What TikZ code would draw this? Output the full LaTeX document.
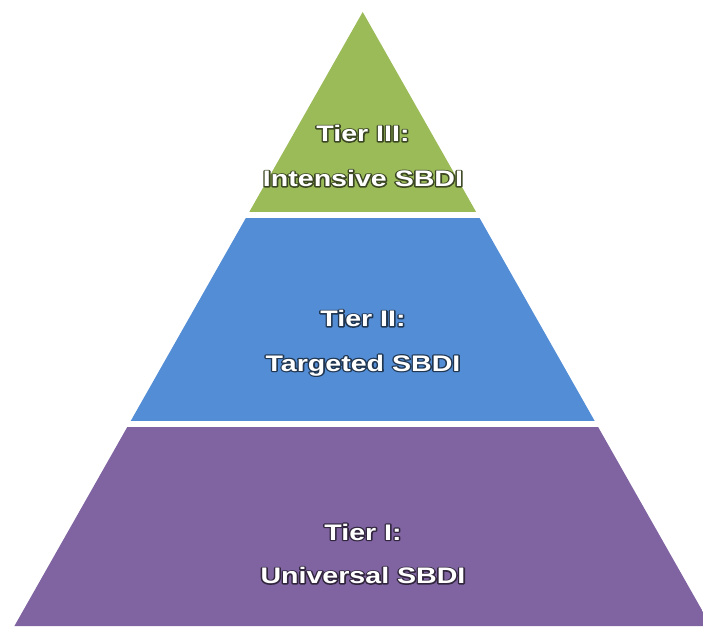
\documentclass[tikz,border=0pt]{standalone}
\usepackage{fontspec}
\usepackage{graphicx}
\setmainfont{Liberation Sans}
\definecolor{tgreen}{HTML}{9BBB59}
\definecolor{tblue}{HTML}{538DD5}
\definecolor{tpurple}{HTML}{8064A2}
\newcommand\glowtxt[2]{%
  \scalebox{1.27}[1]{%
    \rlap{\color{#1!38!black}\special{pdf:literal direct 2 Tr 2.4 w 1 j}#2\special{pdf:literal direct 0 Tr}}%
    \color{white}#2}}
\tikzset{
  lbl/.style={font=\bfseries\fontsize{22.5}{27}\selectfont, anchor=base, inner sep=0pt},
}
\begin{document}
\begin{tikzpicture}[x=1pt,y=-1pt]
\useasboundingbox (0,0) rectangle (703,626);
\begin{scope}
  \clip (362.7,12) -- (14.4,626) -- (711,626) -- cycle;
  \fill[tgreen]  (0,0)   rectangle (703,211.5);
  \fill[tblue]   (0,218) rectangle (703,420.5);
  \fill[tpurple] (0,427) rectangle (703,630);
\end{scope}
\node[lbl] (t3a) at (363,141.5) {\glowtxt{tgreen}{Tier III:}};
\node[lbl] (t3b) at (363,186.5) {\glowtxt{tgreen}{Intensive SBDI}};
\node[lbl] (t2a) at (363,326.5) {\glowtxt{tblue}{Tier II:}};
\node[lbl] (t2b) at (363,371) {\glowtxt{tblue}{Targeted SBDI}};
\node[lbl] (t1a) at (363,540) {\glowtxt{tpurple}{Tier I:}};
\node[lbl] (t1b) at (363,583.5) {\glowtxt{tpurple}{Universal SBDI}};
\end{tikzpicture}
\end{document}
